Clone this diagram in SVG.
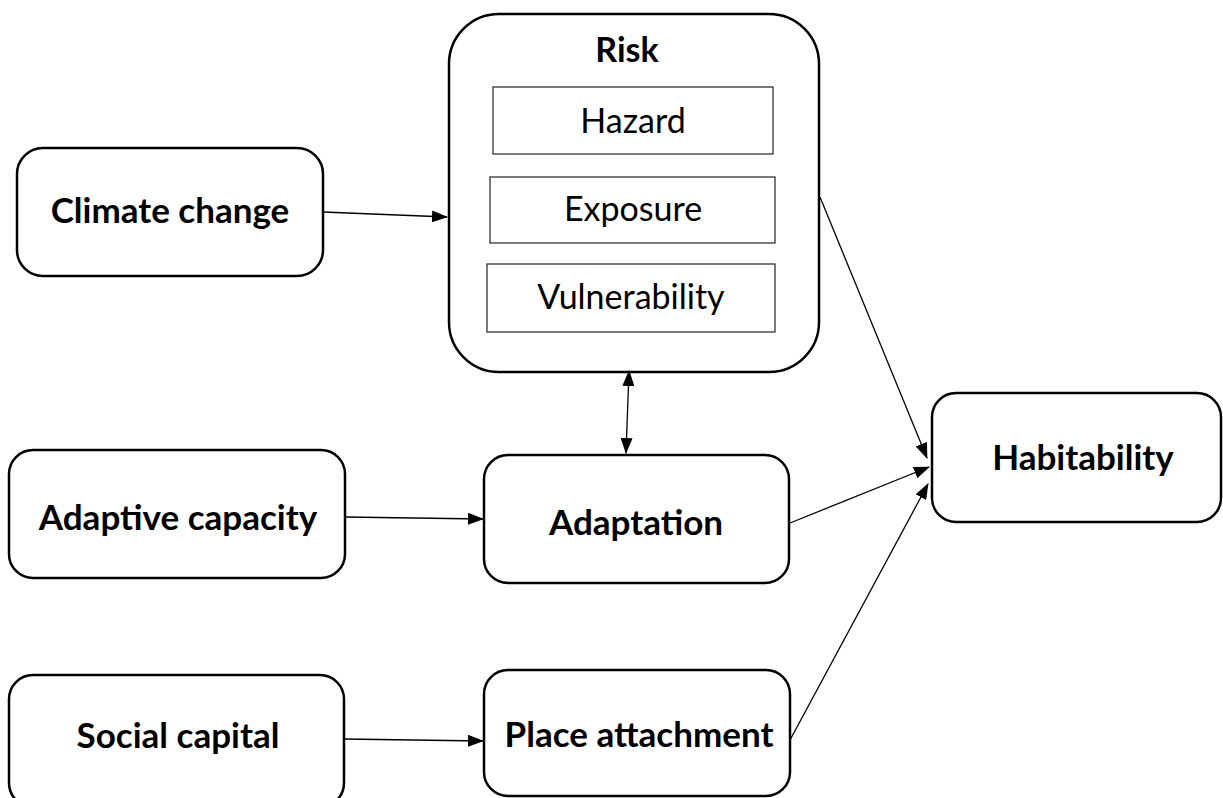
<svg xmlns="http://www.w3.org/2000/svg" width="1223" height="798" viewBox="0 0 1223 798">
<style>
.box{fill:#fff;stroke:#000;stroke-width:2.5}
.inner{fill:#fff;stroke:#333;stroke-width:1.3}
.lbl{font-family:Lato,"Open Sans","Liberation Sans",sans-serif;font-weight:bold;font-size:35px;fill:#000;text-anchor:middle}
.sub{font-family:Lato,"Open Sans","Liberation Sans",sans-serif;font-size:34px;fill:#000;text-anchor:middle}
.conn{fill:none;stroke:#000;stroke-width:1.3}
</style>
<defs>
<marker id="ah" markerUnits="userSpaceOnUse" markerWidth="16" markerHeight="12" refX="15" refY="6" orient="auto-start-reverse" viewBox="0 0 16 12">
<path d="M0,0 L16,6 L0,12 z" fill="#000"/>
</marker>
</defs>
<rect width="1223" height="798" fill="#fff"/>
<g id="climate-change">
<rect class="box" x="17" y="148" width="306" height="128" rx="26"/>
<text class="lbl" x="170" y="223">Climate change</text>
</g>
<g id="risk">
<rect class="box" x="449" y="14" width="370" height="358" rx="50"/>
<text class="lbl" x="627" y="62" style="font-size:34px">Risk</text>
<rect class="inner" x="493" y="87" width="280" height="67"/>
<text class="sub" x="633" y="133">Hazard</text>
<rect class="inner" x="490" y="177" width="285" height="66"/>
<text class="sub" x="633" y="221">Exposure</text>
<rect class="inner" x="487" y="264" width="288" height="68"/>
<text class="sub" x="631" y="309">Vulnerability</text>
</g>
<g id="adaptive-capacity">
<rect class="box" x="9" y="450" width="336" height="128" rx="24"/>
<text class="lbl" x="178" y="530">Adaptive capacity</text>
</g>
<g id="adaptation">
<rect class="box" x="484" y="455" width="305" height="128" rx="24"/>
<text class="lbl" x="636" y="535">Adaptation</text>
</g>
<g id="social-capital">
<rect class="box" x="9" y="675" width="335" height="132" rx="24"/>
<text class="lbl" x="178" y="748">Social capital</text>
</g>
<g id="place-attachment">
<rect class="box" x="484" y="670" width="306" height="126" rx="24"/>
<text class="lbl" x="639" y="747">Place attachment</text>
</g>
<g id="habitability">
<rect class="box" x="932" y="393" width="289" height="129" rx="24"/>
<text class="lbl" x="1083" y="470">Habitability</text>
</g>
<g id="connectors">
<line class="conn" x1="323" y1="212" x2="447" y2="217" marker-end="url(#ah)"/>
<line class="conn" x1="629" y1="371" x2="626" y2="453" marker-start="url(#ah)" marker-end="url(#ah)"/>
<line class="conn" x1="345" y1="517" x2="483" y2="519" marker-end="url(#ah)"/>
<line class="conn" x1="344" y1="739" x2="483" y2="741" marker-end="url(#ah)"/>
<line class="conn" x1="820" y1="197" x2="927" y2="458" marker-end="url(#ah)"/>
<line class="conn" x1="790" y1="523" x2="929" y2="467" marker-end="url(#ah)"/>
<line class="conn" x1="790" y1="740" x2="928" y2="484" marker-end="url(#ah)"/>
</g>
</svg>
